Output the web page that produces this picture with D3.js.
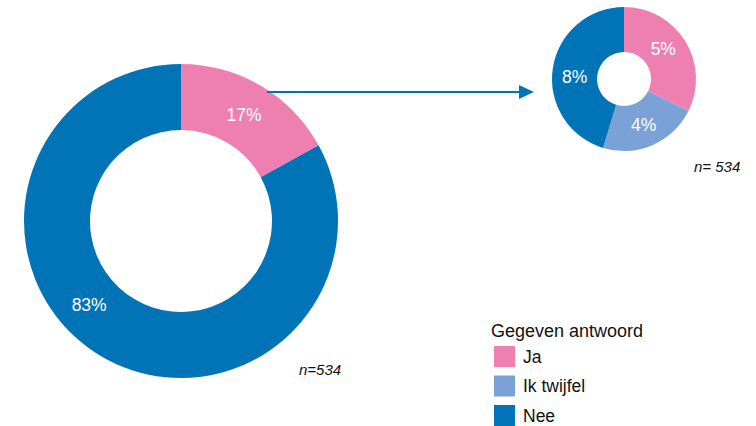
<!DOCTYPE html>
<html><head><meta charset="utf-8">
<script src="https://cdn.jsdelivr.net/npm/d3@7"></script>
<style>body{margin:0;background:#fff}svg{display:block;font-family:"Liberation Sans",Arial,sans-serif}</style>
</head><body><svg id="c" width="756" height="426"></svg>
<script>
const mainCategories = ["Ja", "Nee"];
const mainValues = [17, 83];
const mainLabels = ["17%", "83%"];
const detailCategories = ["Ja", "Ik twijfel", "Nee"];
const detailValues = [5.5, 3.8, 7.7];
const detailLabels = ["5%", "4%", "8%"];
const legendCategories = ["Ja", "Ik twijfel", "Nee"];
const legendTitle = "Gegeven antwoord";
const nMain = "n=534";
const nDetail = "n= 534";

const color = d3.scaleOrdinal().domain(["Ja","Ik twijfel","Nee"]).range(["#ee80b1","#7ba2d6","#0074b6"]);
const svg = d3.select("#c");

function donut(cx, cy, rO, rI, cats, vals, labels, labelAngleShift){
  const pie = d3.pie().sort(null).value(d=>d.v);
  const arcs = pie(cats.map((c,i)=>({c, v:vals[i], l:labels[i]})));
  const arc = d3.arc().innerRadius(rI).outerRadius(rO);
  const g = svg.append("g").attr("transform",`translate(${cx},${cy})`);
  g.selectAll("path").data(arcs).join("path").attr("d",arc).attr("fill",d=>color(d.data.c));
  const rm = (rO+rI)/2;
  g.selectAll("text").data(arcs).join("text")
    .attr("transform",(d,i)=>{
      const a=(d.startAngle+d.endAngle)/2 + (labelAngleShift[i]||0);
      return `translate(${rm*Math.sin(a)},${-rm*Math.cos(a)})`;})
    .attr("text-anchor","middle").attr("dy","0.36em")
    .attr("fill","#fff").attr("font-size",17.5).text(d=>d.data.l);
  return {arcs, arc};
}

donut(181, 221, 157, 91, mainCategories, mainValues, mainLabels, [0, 0.3]);
donut(624, 79, 72, 27, detailCategories, detailValues, detailLabels, [-0.1, 0, -0.1]);

// arrow
const arrowY = 92;
svg.append("line").attr("x1",267).attr("y1",arrowY).attr("x2",520).attr("y2",arrowY)
  .attr("stroke","#0074b6").attr("stroke-width",2);
svg.append("path").attr("d",`M519,${arrowY-7}L534,${arrowY}L519,${arrowY+7}Z`).attr("fill","#0074b6");

svg.append("text").attr("x",299).attr("y",375).attr("font-size",15).attr("font-style","italic").attr("fill","#111").text(nMain);
svg.append("text").attr("x",694).attr("y",172).attr("font-size",15).attr("font-style","italic").attr("fill","#111").text(nDetail);

// legend
const lg = svg.append("g");
lg.append("text").attr("x",491).attr("y",337).attr("font-size",18).attr("fill","#111").text(legendTitle);
const it = lg.selectAll("g.i").data(legendCategories).join("g").attr("class","i")
  .attr("transform",(d,i)=>`translate(494,${346+i*29.5})`);
it.append("rect").attr("width",21).attr("height",21).attr("fill",d=>color(d));
it.append("text").attr("x",29).attr("y",16.5).attr("font-size",17.5).attr("fill","#111").text(d=>d);
</script></body></html>
